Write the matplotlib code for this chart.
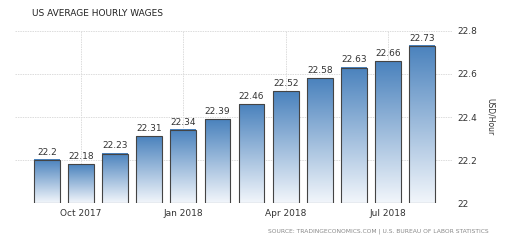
import numpy as np
import matplotlib.pyplot as plt
from matplotlib.colors import LinearSegmentedColormap

months = ['Sep 2017', 'Oct 2017', 'Nov 2017', 'Dec 2017', 'Jan 2018', 'Feb 2018',
          'Mar 2018', 'Apr 2018', 'May 2018', 'Jun 2018', 'Jul 2018', 'Aug 2018']
wages = [22.2, 22.18, 22.23, 22.31, 22.34, 22.39, 22.46, 22.52, 22.58, 22.63, 22.66, 22.73]
tick_labels = ['Oct 2017', 'Jan 2018', 'Apr 2018', 'Jul 2018']
y_ticks = [22, 22.2, 22.4, 22.6, 22.8]

fig = plt.figure(figsize=(5.2, 2.42), dpi=100)
ax = fig.add_axes([0.029, 0.161, 0.84, 0.711])

base = 22
width = 0.76
x = np.arange(len(wages))
cmap = LinearSegmentedColormap.from_list('bar', ['#f2f6fb', '#4a82bd'])
grad = np.linspace(0, 1, 256).reshape(-1, 1)

bars = ax.bar(x, np.array(wages) - base, bottom=base, width=width,
              facecolor='none', edgecolor='#444444', linewidth=0.8, zorder=3)
for xi, v in zip(x, wages):
    ax.imshow(grad, cmap=cmap, aspect='auto', origin='lower',
              extent=(xi - width / 2, xi + width / 2, base, v), zorder=2)
    ax.text(xi, v + 0.015, f'{v:g}', ha='center', va='bottom',
            fontsize=6.5, color='#333333')

ax.set_xlim(-0.94, len(wages) - 0.12)
ax.set_ylim(22, 22.8)
ax.set_xticks([months.index(m) for m in tick_labels])
ax.set_xticklabels(tick_labels)
ax.set_yticks(y_ticks)
ax.set_yticklabels([f'{t:g}' for t in y_ticks])
ax.yaxis.tick_right()
ax.tick_params(axis='both', length=0, labelsize=6.5, colors='#333333', pad=4)
ax.set_ylabel('USD/Hour', rotation=270, fontsize=5.5, color='#333333', labelpad=13)
ax.yaxis.set_label_position('right')
ax.grid(True, color='#dcdcdc', linestyle=(0, (1.5, 1)), linewidth=0.7, zorder=0)
for s in ax.spines.values():
    s.set_visible(False)

fig.text(0.062, 0.945, 'US AVERAGE HOURLY WAGES', fontsize=6.5, color='#222222',
         ha='left', va='center')
fig.text(0.94, 0.045, 'SOURCE: TRADINGECONOMICS.COM | U.S. BUREAU OF LABOR STATISTICS',
         fontsize=4.3, color='#888888', ha='right', va='center')

fig.savefig('out.png', dpi=100)
